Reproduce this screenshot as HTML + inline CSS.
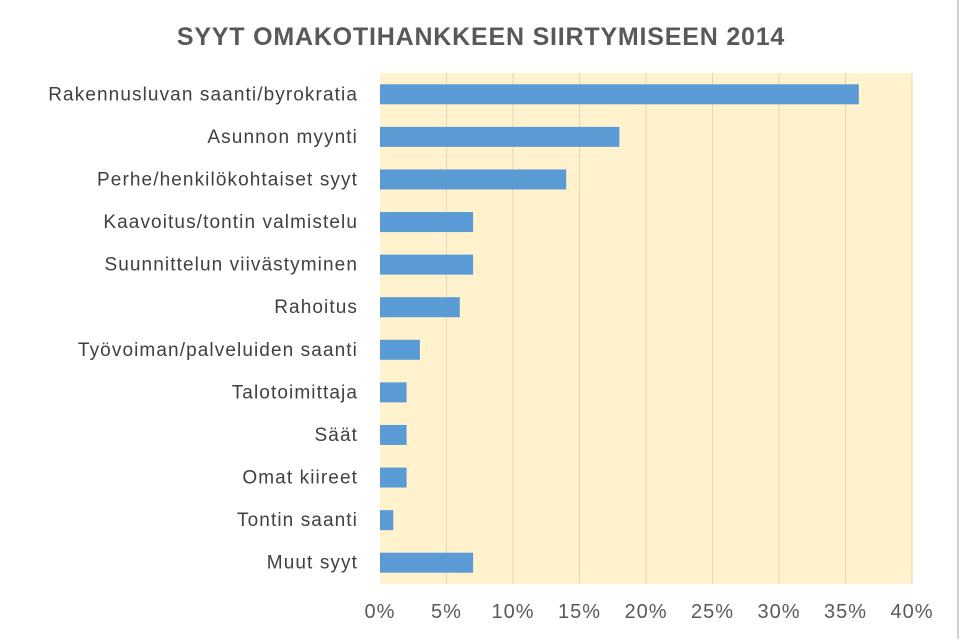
<!DOCTYPE html>
<html><head><meta charset="utf-8"><style>
body{margin:0;width:960px;height:639px;background:#fff;overflow:hidden;font-family:"Liberation Sans",sans-serif}
</style></head><body>
<svg id="chart" width="960" height="639" xmlns="http://www.w3.org/2000/svg">
<rect x="0" y="0" width="959" height="639" fill="#fff"/>
<line x1="958" y1="0" x2="958" y2="639" stroke="#d0d0d0" stroke-width="2"/>
<text x="481" y="45" text-anchor="middle" font-size="25" font-weight="bold" letter-spacing="0.8" fill="#595959">SYYT OMAKOTIHANKKEEN SIIRTYMISEEN 2014</text>
<rect x="380" y="73" width="532" height="511" fill="#fff2cc"/>
<g id="grid"></g><g id="bars"></g><g id="ylabels"></g><g id="xlabels"></g>
</svg>
<script>
const categories=["Rakennusluvan saanti/byrokratia","Asunnon myynti","Perhe/henkilökohtaiset syyt","Kaavoitus/tontin valmistelu","Suunnittelun viivästyminen","Rahoitus","Työvoiman/palveluiden saanti","Talotoimittaja","Säät","Omat kiireet","Tontin saanti","Muut syyt"];
const values=[36,18,14,7,7,6,3,2,2,2,1,7];
const ticks=[0,5,10,15,20,25,30,35,40];
const tickLabels=["0%","5%","10%","15%","20%","25%","30%","35%","40%"];
const NS="http://www.w3.org/2000/svg";
const X0=380,X1=912,PT=73,PB=584;
const xs=v=>X0+(v/40)*(X1-X0);
const band=(PB-PT)/categories.length;
const yc=i=>PT+band*(i+0.5);
function mk(t,a,p){const e=document.createElementNS(NS,t);for(const k in a)e.setAttribute(k,a[k]);document.getElementById(p).appendChild(e);return e;}
ticks.forEach((t,i)=>{
 if(i>0){const l=mk('line',{x1:xs(t),x2:xs(t),y1:PT,y2:PB,stroke:'#e2d6bc','stroke-width':1},'grid');
 
 }
 const tx=mk('text',{x:xs(t),y:618,'text-anchor':'middle','font-size':20,'letter-spacing':1,fill:'#595959'},'xlabels');
 tx.textContent=tickLabels[i];
 
 
});
categories.forEach((c,i)=>{
 const r=mk('rect',{x:X0,y:yc(i)-10,width:xs(values[i])-X0,height:20,fill:'#5b9bd5'},'bars');
 
 
 const tx=mk('text',{x:358,y:yc(i)+6,'text-anchor':'end','font-size':19,'letter-spacing':1.1,fill:'#404040'},'ylabels');
 tx.textContent=c;
 
 
});
</script>
</body></html>
